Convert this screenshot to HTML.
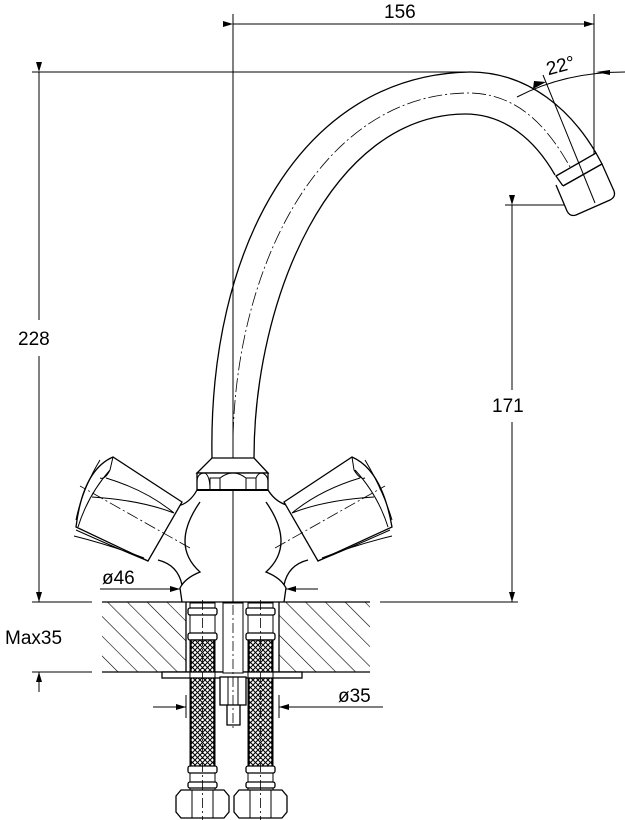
<!DOCTYPE html>
<html><head><meta charset="utf-8"><style>
html,body{margin:0;padding:0;background:#fff}
svg{display:block}
text{font-family:"Liberation Sans",sans-serif;font-size:19px;fill:#000}
</style></head><body>
<svg width="625" height="820" viewBox="0 0 625 820" xmlns="http://www.w3.org/2000/svg">
<defs>
<pattern id="hatch" width="14" height="14" patternUnits="userSpaceOnUse" patternTransform="rotate(-45)">
<line x1="0" y1="0" x2="0" y2="14" stroke="#000" stroke-width="1.2"/>
</pattern>
<pattern id="mesh" width="5" height="5" patternUnits="userSpaceOnUse">
<rect width="5" height="5" fill="#fff"/>
<path d="M0,0L5,5M5,0L0,5" stroke="#000" stroke-width="1"/>
</pattern>
<marker id="ar" viewBox="0 0 10 6" refX="10" refY="3" markerWidth="16" markerHeight="6" markerUnits="userSpaceOnUse" orient="auto">
<path d="M0,0L10,3L0,6z" fill="#000"/>
</marker>
</defs>
<g fill="none" stroke="#000" stroke-width="1.3">
<line x1="233" y1="14" x2="233" y2="605" stroke-width="1"/>
<line x1="594" y1="14" x2="594" y2="193" stroke-width="1"/>
<line x1="233" y1="24" x2="594" y2="24" marker-start="url(#ar)" marker-end="url(#ar)" stroke-width="1"/>
<line x1="32" y1="72" x2="470" y2="72" stroke-width="1"/>
<line x1="39" y1="72" x2="39" y2="320" marker-start="url(#ar)" stroke-width="1"/>
<line x1="39" y1="356" x2="39" y2="602" marker-end="url(#ar)" stroke-width="1"/>
<line x1="32" y1="602" x2="92" y2="602" stroke-width="1"/>
<line x1="32" y1="672" x2="92" y2="672" stroke-width="1"/>
<line x1="39" y1="692" x2="39" y2="672" marker-end="url(#ar)" stroke-width="1"/>
<line x1="505" y1="205" x2="585" y2="205" stroke-width="1"/>
<line x1="380" y1="602" x2="518" y2="602" stroke-width="1"/>
<line x1="512" y1="205" x2="512" y2="390" marker-start="url(#ar)" stroke-width="1"/>
<line x1="512" y1="422" x2="512" y2="602" marker-end="url(#ar)" stroke-width="1"/>
<rect x="102" y="602" width="84" height="70" fill="url(#hatch)" stroke="none"/>
<rect x="279" y="602" width="91" height="70" fill="url(#hatch)" stroke="none"/>
<line x1="102" y1="602" x2="370" y2="602"/>
<line x1="102" y1="672" x2="370" y2="672"/>
<line x1="186" y1="602" x2="186" y2="672"/>
<line x1="279" y1="602" x2="279" y2="672"/>
<rect x="162" y="672" width="140" height="6" fill="#fff"/>
<path d="M212,458 C208,250 300,75 470,72 C530,72 572,112 596,153"/>
<path d="M254,458 C254,300 330,115 465,114 C505,114 535,140 555,175"/>
<path d="M233,458 C230,280 315,94 468,93 C520,93 556,130 586,200" stroke-width="0.8" stroke-dasharray="14,3,2,3"/>
<path d="M556,176 L596,153 L602,164 L563,186 Z" fill="#fff"/>
<path d="M563,186 L602,164 L614,191 Q616,197 610,200 L576,215 Q570,217 567,211 L556,185" fill="#fff"/>
<line x1="543" y1="75" x2="595" y2="203" stroke-width="1"/>
<path d="M517,97 Q565,72 625,72" stroke-width="1"/>
<path d="M533,89 L546,82 L534,81" fill="#000" stroke="none"/>
<path d="M610,70 L596,72 L610,75z" fill="#000" stroke="none"/>
<path d="M197,482 Q197,473 205,473" stroke="none"/>
<path d="M212,458 L254,458 L268,473 L197,473 Z" fill="#fff"/>
<rect x="197" y="473" width="71" height="17" fill="#fff"/>
<path d="M197,482 Q197,473 205,473 Q210,476 210,490 M210,490 L210,478 L220,478 L220,490 M220,478 Q233,468 246,478 L246,490 M246,478 L256,478 L256,490 M256,478 Q258,473 262,473 Q268,475 268,482" stroke-width="1"/>
<line x1="197" y1="490" x2="268" y2="490" stroke-width="2"/>
<path d="M197,490 Q190,503 178,506 M268,490 Q276,503 290,506"/>
<path d="M200,502 Q170,545 200,572 Q185,578 180,588 L182,602 M266,502 Q296,545 266,572 Q281,578 286,588 L284,602"/>
<path d="M158,560 Q178,565 182,585 M308,560 Q288,565 284,585"/>
<path d="M284,502 L352,457 Q382,470 392,527 L318,561 Z" fill="#fff"/>
<path d="M352,457 L354,470 Q360,480 365,478 M355,470 Q378,495 388,527 M365,460 Q383,490 392,520" stroke-width="1"/>
<path d="M292,513 Q320,490 360,478 M292,513 Q325,500 374,497 M318,561 Q350,548 390,530 M322,558 Q355,545 392,536" stroke-width="1"/>
<line x1="275" y1="548" x2="385" y2="486" stroke-width="0.8" stroke-dasharray="12,3,2,3"/>
<path d="M182,502 L113,457 Q83,470 76,527 L148,561 Z" fill="#fff"/>
<path d="M113,457 L110,470 Q105,480 100,478 M110,470 Q88,495 78,527 M100,460 Q82,490 76,520" stroke-width="1"/>
<path d="M174,513 Q146,490 106,478 M174,513 Q140,500 92,497 M148,561 Q116,548 76,530 M144,558 Q110,545 74,536" stroke-width="1"/>
<line x1="190" y1="548" x2="80" y2="486" stroke-width="0.8" stroke-dasharray="12,3,2,3"/>
<line x1="100" y1="589" x2="180" y2="589" marker-end="url(#ar)" stroke-width="1"/>
<line x1="318" y1="589" x2="286" y2="589" marker-end="url(#ar)" stroke-width="1"/>
<rect x="223" y="603" width="20" height="70" fill="#fff" stroke-width="1"/>
<rect x="220" y="677" width="26" height="28" fill="#fff"/>
<line x1="228" y1="677" x2="228" y2="705" stroke-width="1"/><line x1="238" y1="677" x2="238" y2="705" stroke-width="1"/>
<path d="M227,705 L227,725 L240,725 L240,705"/>
<line x1="233" y1="605" x2="233" y2="728" stroke-width="0.8" stroke-dasharray="10,3,2,3"/>
<g id="hose">
<rect x="190" y="603" width="25" height="200" fill="#fff" stroke-width="1"/>
<rect x="188" y="608" width="29" height="7" rx="2" fill="#fff"/>
<rect x="188" y="633" width="29" height="7" rx="2" fill="#fff"/>
<rect x="191" y="640" width="23" height="32" fill="url(#mesh)"/>
<rect x="191" y="678" width="23" height="90" fill="url(#mesh)"/>
<rect x="188" y="766" width="29" height="7" rx="2" fill="#fff"/>
<rect x="188" y="782" width="29" height="6" rx="2" fill="#fff"/>
<path d="M176,796 L181,790 L224,790 L229,796 L229,812 L224,818 L181,818 L176,812 Z" fill="#fff"/>
<line x1="192" y1="790" x2="192" y2="818" stroke-width="1"/><line x1="213" y1="790" x2="213" y2="818" stroke-width="1"/>
<line x1="202.5" y1="600" x2="202.5" y2="820" stroke-width="0.8" stroke-dasharray="10,3,2,3"/>
</g>
<use href="#hose" x="58"/>
<line x1="186" y1="695" x2="186" y2="718" stroke-width="1"/>
<line x1="279" y1="695" x2="279" y2="718" stroke-width="1"/>
<line x1="153" y1="707" x2="186" y2="707" marker-end="url(#ar)" stroke-width="1"/>
<line x1="383" y1="707" x2="279" y2="707" marker-end="url(#ar)" stroke-width="1"/>
</g>
<text x="384" y="18">156</text>
<text x="18" y="345">228</text>
<text x="492" y="412">171</text>
<text x="5" y="644">Max35</text>
<text x="102" y="584">ø46</text>
<text x="338" y="702">ø35</text>
<rect x="544" y="52" width="40" height="22" fill="#fff" transform="rotate(-15 560 65)"/>
<text x="546" y="72" transform="rotate(-15 560 65)">22°</text>
</svg>
</body></html>
